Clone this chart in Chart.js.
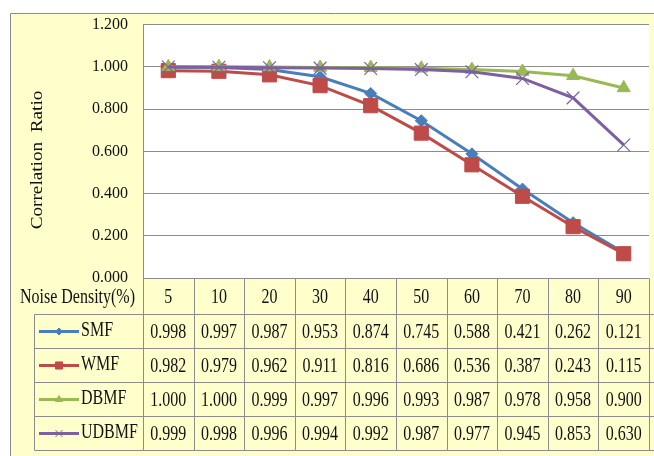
<!DOCTYPE html>
<html>
<head>
<meta charset="utf-8">
<script src="https://cdn.jsdelivr.net/npm/chart.js@4/dist/chart.umd.min.js"></script>
<style>
  html, body { margin: 0; padding: 0; overflow: hidden; background: #fff; }
  #wrap { width: 660px; height: 456px; }
</style>
</head>
<body>
<div id="wrap"><canvas id="chart" width="660" height="456"></canvas></div>
<script>
const noiseDensity = ['5', '10', '20', '30', '40', '50', '60', '70', '80', '90'];
const smf   = [0.998, 0.997, 0.987, 0.953, 0.874, 0.745, 0.588, 0.421, 0.262, 0.121];
const wmf   = [0.982, 0.979, 0.962, 0.911, 0.816, 0.686, 0.536, 0.387, 0.243, 0.115];
const dbmf  = [1.000, 1.000, 0.999, 0.997, 0.996, 0.993, 0.987, 0.978, 0.958, 0.900];
const udbmf = [0.999, 0.998, 0.996, 0.994, 0.992, 0.987, 0.977, 0.945, 0.853, 0.630];
const seriesNames = ['SMF', 'WMF', 'DBMF', 'UDBMF'];

const FONT = '"Liberation Serif", "Times New Roman", serif';
const gridColor = '#8c8c8c';
const yellow = '#ffffcc';
const textColor = '#111';

const series = [
  { name: seriesNames[0], data: smf,   color: '#4a7ebb', style: 'rectRot',  r: 6,  lr: 3.5 },
  { name: seriesNames[1], data: wmf,   color: '#be4b48', style: 'rect',     r: 10, lr: 5 },
  { name: seriesNames[2], data: dbmf,  color: '#98b954', style: 'triangle', r: 7.5, lr: 4 },
  { name: seriesNames[3], data: udbmf, color: '#7d60a0', style: 'crossRot', r: 9,  lr: 5 }
];

// stretched serif text, like the source picture
function stretchText(ctx, txt, x, y, sy) {
  ctx.save();
  ctx.translate(x, y);
  ctx.scale(1, sy || 1.3);
  ctx.fillText(txt, 0, 0);
  ctx.restore();
}

const backgroundPlugin = {
  id: 'bg',
  beforeDraw(chart) {
    const { ctx, chartArea: a } = chart;
    ctx.save();
    ctx.fillStyle = '#fff';
    ctx.fillRect(0, 0, chart.width, chart.height);
    ctx.fillStyle = yellow;
    ctx.fillRect(11, 13, chart.width - 11, chart.height - 13);
    ctx.strokeStyle = '#8a8a8a';
    ctx.lineWidth = 1;
    ctx.beginPath();
    ctx.moveTo(10.5, chart.height);
    ctx.lineTo(10.5, 13.5);
    ctx.lineTo(chart.width, 13.5);
    ctx.stroke();
    ctx.fillStyle = '#fff';
    ctx.fillRect(a.left, a.top, a.right - a.left, a.bottom - a.top);
    ctx.restore();
  }
};

const tablePlugin = {
  id: 'dataTable',
  afterDraw(chart) {
    const { ctx, chartArea: a } = chart;
    const xs = chart.scales.x;
    const n = noiseDensity.length;
    const cw = (xs.right - xs.left) / n;
    const top = Math.round(a.bottom) + 0.5;
    const rows = [top, 314.5, 348.5, 382.5, 416.5, 450.5];
    const legLeft = 34.5;

    ctx.save();
    ctx.strokeStyle = gridColor;
    ctx.lineWidth = 1;
    ctx.beginPath();
    // vertical lines
    for (let i = 0; i <= n; i++) {
      const x = Math.round(xs.getPixelForValue(0) - cw / 2 + i * cw) + 0.5;
      ctx.moveTo(x, top);
      ctx.lineTo(x, rows[5]);
    }
    ctx.moveTo(legLeft, rows[1]);
    ctx.lineTo(legLeft, rows[5]);
    // horizontal lines
    for (let r = 1; r < rows.length; r++) {
      ctx.moveTo(legLeft, rows[r]);
      ctx.lineTo(chart.width, rows[r]);
    }
    ctx.stroke();

    ctx.fillStyle = textColor;
    ctx.font = '16px ' + FONT;
    ctx.textBaseline = 'middle';

    // header
    ctx.textAlign = 'center';
    noiseDensity.forEach((lab, i) => {
      stretchText(ctx, lab, xs.getPixelForValue(i), (rows[0] + rows[1]) / 2 + 1);
    });
    ctx.textAlign = 'right';
    stretchText(ctx, 'Noise Density(%)', 135, (rows[0] + rows[1]) / 2 + 1);

    // rows
    series.forEach((s, k) => {
      const cy = (rows[k + 1] + rows[k + 2]) / 2;
      ctx.fillStyle = textColor;
      ctx.textAlign = 'center';
      s.data.forEach((v, i) => {
        stretchText(ctx, v.toFixed(3), xs.getPixelForValue(i), cy + 1);
      });
      // legend key
      ctx.strokeStyle = s.color;
      ctx.lineWidth = 3;
      ctx.beginPath();
      ctx.moveTo(39, cy);
      ctx.lineTo(79, cy);
      ctx.stroke();
      ctx.fillStyle = s.color;
      ctx.lineWidth = 1;
      Chart.helpers.drawPoint(ctx, { pointStyle: s.style, radius: s.lr, rotation: 0, borderWidth: 1 }, 59, cy);
      ctx.fillStyle = textColor;
      ctx.textAlign = 'left';
      stretchText(ctx, s.name, 81, cy - 1);
    });

    // y axis title
    ctx.save();
    ctx.translate(38, 160);
    ctx.rotate(-Math.PI / 2);
    ctx.scale(1.2, 1);
    ctx.textAlign = 'center';
    ctx.fillStyle = textColor;
    ctx.fillText('Correlation  Ratio', 0, 0);
    ctx.restore();

    ctx.restore();
  }
};

const config = {
  type: 'line',
  data: {
    labels: noiseDensity,
    datasets: series.map((s, k) => ({
      label: s.name,
      data: s.data,
      borderColor: s.color,
      backgroundColor: s.color,
      borderWidth: 3,
      pointStyle: s.style,
      pointRadius: s.r,
      pointBorderWidth: s.style === 'crossRot' ? 1.2 : 1,
      pointBorderColor: s.color,
      pointBackgroundColor: s.color,
      tension: 0,
      clip: false,
      order: 3 - k
    }))
  },
  options: {
    responsive: false,
    animation: false,
    events: [],
    layout: { padding: { top: 24, left: 0, right: 3, bottom: 178 } },
    plugins: {
      legend: { display: false },
      title: { display: false },
      tooltip: { enabled: false }
    },
    scales: {
      x: {
        display: false,
        offset: true
      },
      y: {
        min: 0,
        max: 1.2,
        afterFit(scale) { scale.width = 143; },
        ticks: {
          stepSize: 0.2,
          padding: 15,
          color: textColor,
          font: { family: FONT, size: 16 },
          callback: v => v.toFixed(3)
        },
        grid: { color: gridColor, lineWidth: 1, drawTicks: false },
        border: { display: true, color: gridColor }
      }
    }
  },
  plugins: [backgroundPlugin, tablePlugin]
};

const chart = new Chart(document.getElementById('chart'), config);
</script>
</body>
</html>
